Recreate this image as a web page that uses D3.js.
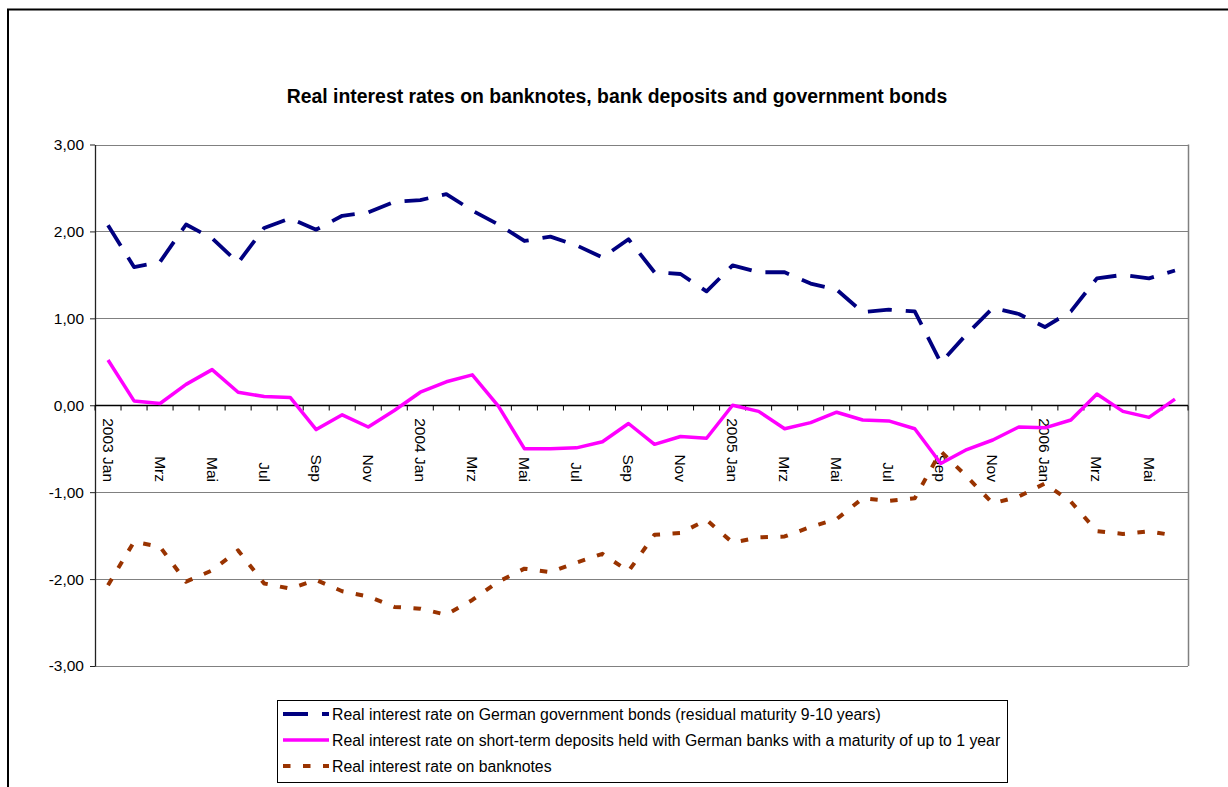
<!DOCTYPE html>
<html>
<head>
<meta charset="utf-8">
<script src="https://cdn.jsdelivr.net/npm/d3@7"></script>
<style>
  body { margin: 0; background: #fff; }
  svg { display: block; font-family: "Liberation Sans", Arial, sans-serif; }
</style>
</head>
<body>
<div id="chart"></div>
<script>
// Months (German abbreviations), Jan 2003 - Jun 2006
const months = [
  "2003 Jan", "Feb", "Mrz", "Apr", "Mai", "Jun", "Jul", "Aug", "Sep", "Okt", "Nov", "Dez",
  "2004 Jan", "Feb", "Mrz", "Apr", "Mai", "Jun", "Jul", "Aug", "Sep", "Okt", "Nov", "Dez",
  "2005 Jan", "Feb", "Mrz", "Apr", "Mai", "Jun", "Jul", "Aug", "Sep", "Okt", "Nov", "Dez",
  "2006 Jan", "Feb", "Mrz", "Apr", "Mai", "Jun"
];

// Real interest rate on German government bonds (residual maturity 9-10 years)
const bonds = [
  2.07, 1.59, 1.65, 2.08, 1.92, 1.64, 2.04, 2.15, 2.02, 2.18, 2.22, 2.34,
  2.36, 2.43, 2.24, 2.08, 1.89, 1.94, 1.84, 1.70, 1.91, 1.53, 1.51, 1.31,
  1.61, 1.53, 1.53, 1.40, 1.33, 1.07, 1.10, 1.08, 0.49, 0.82, 1.12, 1.05,
  0.90, 1.08, 1.46, 1.50, 1.46, 1.55
];

// Real interest rate on short-term deposits (maturity up to 1 year)
const deposits = [
  0.52, 0.05, 0.02, 0.24, 0.41, 0.15, 0.10, 0.09, -0.28, -0.11, -0.25, -0.06,
  0.15, 0.27, 0.35, -0.01, -0.50, -0.50, -0.49, -0.42, -0.21, -0.45, -0.36, -0.38,
  0.00, -0.07, -0.27, -0.20, -0.08, -0.17, -0.18, -0.27, -0.67, -0.51, -0.40, -0.25,
  -0.26, -0.17, 0.13, -0.07, -0.14, 0.07
];

// Real interest rate on banknotes
const banknotes = [
  -2.07, -1.57, -1.63, -2.03, -1.90, -1.67, -2.05, -2.11, -2.01, -2.14, -2.20, -2.32,
  -2.34, -2.41, -2.24, -2.03, -1.88, -1.92, -1.81, -1.71, -1.91, -1.49, -1.47, -1.32,
  -1.58, -1.52, -1.51, -1.40, -1.31, -1.07, -1.10, -1.07, -0.53, -0.82, -1.13, -1.05,
  -0.90, -1.11, -1.45, -1.48, -1.45, -1.50
];

const yTicks = [3, 2, 1, 0, -1, -2, -3];

const seriesNames = [
  "Real interest rate on German government bonds (residual maturity 9-10 years)",
  "Real interest rate on short-term deposits held with German banks with a maturity of up to 1 year",
  "Real interest rate on banknotes"
];

const width = 1228, height = 787;
const margin = { top: 144.5, right: 40, bottom: 121, left: 95 };

const svg = d3.select("#chart").append("svg")
  .attr("width", width)
  .attr("height", height);

// outer chart frame
svg.append("rect")
  .attr("x", 8).attr("y", 9.5)
  .attr("width", width + 20).attr("height", height + 20)
  .attr("fill", "#fff")
  .attr("stroke", "#000")
  .attr("stroke-width", 2);

// title
svg.append("text")
  .attr("x", 617)
  .attr("y", 103)
  .attr("text-anchor", "middle")
  .style("font-size", "19.4px")
  .style("font-weight", "bold")
  .text("Real interest rates on banknotes, bank deposits and government bonds");

const x = d3.scaleBand()
  .domain(months.map((d, i) => i))
  .range([margin.left, width - margin.right])
  .padding(0);

const y = d3.scaleLinear()
  .domain([-3, 3])
  .range([height - margin.bottom, margin.top]);

const fmt = v => d3.format(".2f")(v).replace(".", ",").replace("−", "-");

// gridlines
svg.append("g")
  .selectAll("line")
  .data(yTicks.filter(d => d !== 0))
  .enter()
  .append("line")
  .attr("x1", margin.left)
  .attr("x2", width - margin.right)
  .attr("y1", d => Math.round(y(d)) + 0.5)
  .attr("y2", d => Math.round(y(d)) + 0.5)
  .attr("stroke", "#808080")
  .attr("stroke-width", 1.2);

// right border of plot area
svg.append("line")
  .attr("x1", width - margin.right + 0.5)
  .attr("x2", width - margin.right + 0.5)
  .attr("y1", y(3))
  .attr("y2", y(-3))
  .attr("stroke", "#808080")
  .attr("stroke-width", 1.5);

// y axis
const yAxis = svg.append("g")
  .attr("transform", `translate(${margin.left},0)`)
  .call(d3.axisLeft(y).tickValues(yTicks).tickSize(5).tickSizeOuter(0).tickFormat(fmt));
yAxis.select(".domain").attr("stroke", "#222").attr("stroke-width", 1.3);
yAxis.selectAll(".tick line").attr("stroke", "#222");
yAxis.selectAll(".tick text")
  .attr("x", -11)
  .style("font-size", "15.5px")
  .style("font-family", "'Liberation Sans', Arial, sans-serif")
  .attr("fill", "#000");

// x axis on the zero line
const y0 = Math.round(y(0)) + 0.5;
const xg = svg.append("g");
xg.append("line")
  .attr("x1", margin.left)
  .attr("x2", width - margin.right)
  .attr("y1", y0).attr("y2", y0)
  .attr("stroke", "#000")
  .attr("stroke-width", 1.3);

xg.selectAll("line.tick")
  .data(d3.range(months.length + 1))
  .enter()
  .append("line")
  .attr("class", "tick")
  .attr("x1", d => (d < months.length ? x(d) : x(d - 1) + x.bandwidth()))
  .attr("x2", d => (d < months.length ? x(d) : x(d - 1) + x.bandwidth()))
  .attr("y1", y0)
  .attr("y2", y0 + 5)
  .attr("stroke", "#000");

xg.selectAll("text")
  .data(months.map((m, i) => ({ m, i })).filter(d => d.i % 2 === 0))
  .enter()
  .append("text")
  .attr("transform", d => `translate(${x(d.i) + x.bandwidth() / 2},482) rotate(90)`)
  .attr("text-anchor", "end")
  .attr("dy", "0.35em")
  .style("font-size", "15.5px")
  .text(d => d.m);

// series lines
const line = d3.line()
  .x((d, i) => x(i) + x.bandwidth() / 2)
  .y(d => y(d));

const series = [
  { data: bonds, color: "#000080", width: 3.8, dash: "24,14", name: seriesNames[0] },
  { data: deposits, color: "#FF00FF", width: 3.5, dash: null, name: seriesNames[1] },
  { data: banknotes, color: "#993300", width: 4, dash: "7.5,12.5", name: seriesNames[2] }
];

series.forEach(s => {
  svg.append("path")
    .datum(s.data)
    .attr("d", line)
    .attr("fill", "none")
    .attr("stroke", s.color)
    .attr("stroke-width", s.width)
    .attr("stroke-dasharray", s.dash)
    .attr("stroke-linejoin", "round");
});

// legend
const legend = svg.append("g");
legend.append("rect")
  .attr("x", 277.5).attr("y", 700.5)
  .attr("width", 730).attr("height", 82)
  .attr("fill", "#fff")
  .attr("stroke", "#000")
  .attr("stroke-width", 1);

const legendRows = [714, 740, 766];
series.forEach((s, i) => {
  legend.append("line")
    .attr("x1", 283).attr("x2", 329)
    .attr("y1", legendRows[i]).attr("y2", legendRows[i])
    .attr("stroke", s.color)
    .attr("stroke-width", s.width)
    .attr("stroke-dasharray", i === 0 ? "25,14" : i === 2 ? "7.5,12.5" : null);
  legend.append("text")
    .attr("x", 332)
    .attr("y", legendRows[i])
    .attr("dy", "0.35em")
    .style("font-size", "15.8px")
    .text(s.name);
});
</script>
</body>
</html>
